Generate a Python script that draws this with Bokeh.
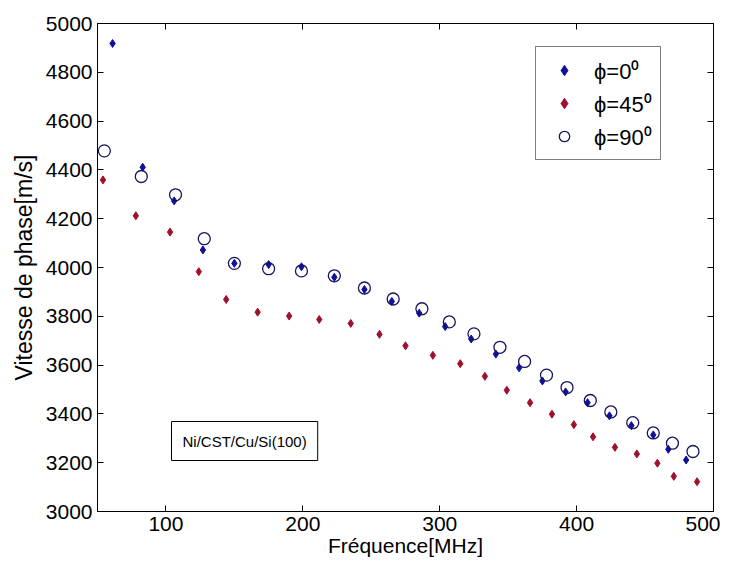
from bokeh.plotting import figure
from bokeh.models import Range1d, LinearAxis, FixedTicker, Legend, LegendItem, Label, CustomJSTickFormatter
from bokeh.embed import file_html
from bokeh.resources import INLINE

# phi = 0 deg (blue dots)
f0 = [61, 83, 106, 127, 150, 175, 199, 223, 245, 265, 285, 304, 323, 341, 358, 375, 392, 408, 424, 440, 456, 467, 480]
v0 = [4918, 4411, 4273, 4072, 4017, 4012, 4003, 3960, 3910, 3861, 3813, 3758, 3707, 3645, 3589, 3535, 3490, 3446, 3392, 3352, 3314, 3255, 3211]

# phi = 45 deg (red dots)
f45 = [54, 78, 103, 124, 144, 167, 190, 212, 235, 256, 275, 295, 315, 333, 349, 366, 382, 398, 412, 428, 444, 459, 471, 488]
v45 = [4359, 4212, 4145, 3983, 3869, 3817, 3801, 3787, 3771, 3726, 3679, 3640, 3606, 3554, 3497, 3446, 3399, 3356, 3306, 3263, 3236, 3198, 3144, 3122]

# phi = 90 deg (open circles)
f90 = [55, 82, 107, 128, 150, 175, 199, 223, 245, 266, 287, 307, 325, 344, 362, 378, 393, 410, 425, 441, 456, 470, 485]
v90 = [4478, 4373, 4298, 4118, 4017, 3995, 3986, 3966, 3916, 3871, 3831, 3777, 3728, 3673, 3615, 3559, 3508, 3455, 3408, 3364, 3322, 3280, 3246]

x_ticks = [100, 200, 300, 400, 500]
y_ticks = [3000, 3200, 3400, 3600, 3800, 4000, 4200, 4400, 4600, 4800, 5000]

FONT = "Liberation Sans"

p = figure(width=720, height=559, output_backend="svg", toolbar_location=None,
           x_range=Range1d(50, 500), y_range=Range1d(3000, 5000),
           min_border_left=97, min_border_right=7, min_border_top=23, min_border_bottom=46)
p.grid.visible = False
p.outline_line_color = "black"
p.outline_line_width = 1
p.background_fill_color = "white"
p.border_fill_color = "white"

def style_axis(ax):
    ax.axis_line_color = "black"
    ax.major_tick_in = 6
    ax.major_tick_out = 0
    ax.minor_tick_line_color = None
    ax.major_tick_line_color = "black"
    ax.major_label_text_font = FONT
    ax.major_label_text_font_size = "21px"
    ax.major_label_text_color = "black"
    ax.axis_label_text_font = FONT
    ax.axis_label_text_font_size = "21px"
    ax.axis_label_text_font_style = "normal"
    ax.axis_label_text_color = "black"

p.xaxis.ticker = FixedTicker(ticks=x_ticks)
p.yaxis.ticker = FixedTicker(ticks=y_ticks)
p.xaxis.axis_label = "Fréquence[MHz]"
p.yaxis.axis_label = "Vitesse de phase[m/s]"
style_axis(p.xaxis[0])
style_axis(p.yaxis[0])
p.yaxis.axis_label_text_font_size = "23px"
p.xaxis.major_label_standoff = 5
p.yaxis.major_label_standoff = 5
p.xaxis.axis_label_standoff = 0
p.yaxis.axis_label_standoff = 6

blank = CustomJSTickFormatter(code="return ''")
top = LinearAxis(ticker=FixedTicker(ticks=x_ticks), formatter=blank)
right = LinearAxis(ticker=FixedTicker(ticks=y_ticks), formatter=blank)
for ax in (top, right):
    style_axis(ax)
    ax.major_label_standoff = 0
p.add_layout(top, "above")
p.add_layout(right, "right")

r0 = p.scatter(f0, v0, marker="diamond", size=8, fill_color="#10109a", line_color="#10109a")
r45 = p.scatter(f45, v45, marker="diamond", size=8, fill_color="#a0102e", line_color="#a0102e")
r90 = p.scatter(f90, v90, marker="circle", size=12, fill_color=None, line_color="#151560", line_width=1.3)

legend = Legend(items=[LegendItem(label="ϕ=0⁰", renderers=[r0]),
                       LegendItem(label="ϕ=45⁰", renderers=[r45]),
                       LegendItem(label="ϕ=90⁰", renderers=[r90])],
                location=(438, 351))
legend.label_text_font = FONT
legend.label_text_font_size = "22px"
legend.label_text_color = "black"
legend.border_line_color = "black"
legend.border_line_width = 1
legend.background_fill_alpha = 1
legend.padding = 8
legend.spacing = 3
legend.glyph_width = 40
legend.glyph_height = 26
legend.label_height = 26
legend.label_standoff = 10
legend.margin = 0
p.add_layout(legend, "center")

note = Label(x=74, y=51, x_units="screen", y_units="screen",
             text="Ni/CST/Cu/Si(100)", text_font=FONT, text_font_size="15px",
             text_color="black", border_line_color="black", border_line_width=1,
             background_fill_color="white", padding=11)
p.add_layout(note)

open("out.html", "w").write(file_html(p, INLINE))
